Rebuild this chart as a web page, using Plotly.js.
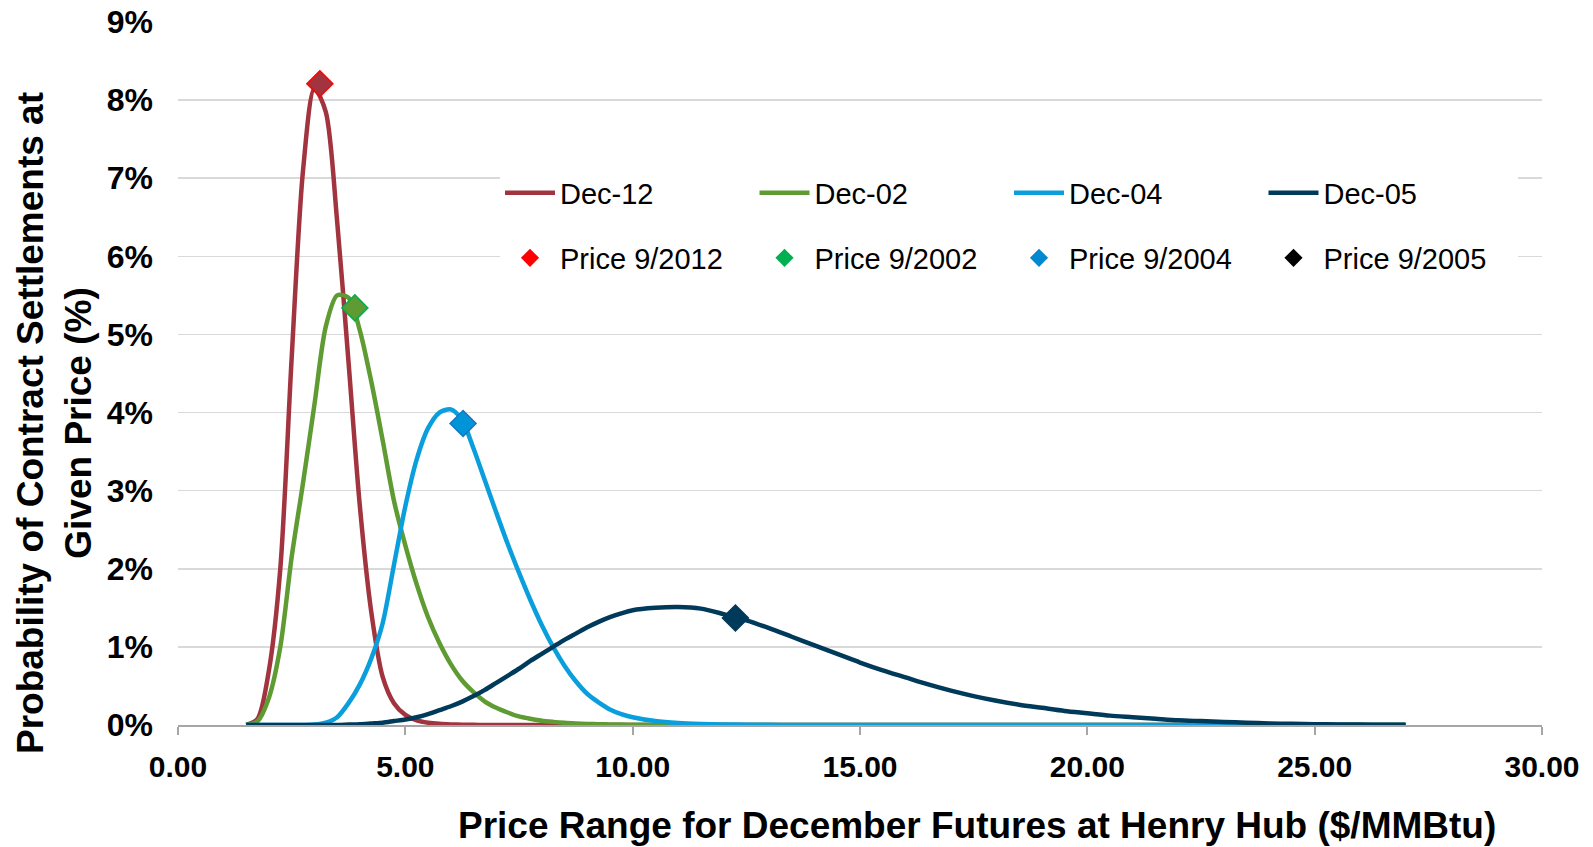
<!DOCTYPE html>
<html>
<head>
<meta charset="utf-8">
<script src="https://cdn.plot.ly/plotly-3.0.1.min.js"></script>
<style>html,body{margin:0;padding:0;background:#fff;}#chart{width:1593px;height:847px;}</style>
</head>
<body>
<div id="chart"></div>
<script>
// Price grid ($/MMBtu)
var prices = [1.5,1.75,2,2.25,2.5,2.75,3,3.25,3.5,3.75,4,4.25,4.5,4.75,5,5.25,5.5,5.75,6,6.25,6.5,6.75,7,7.25,7.5,7.75,8,8.25,8.5,8.75,9,9.25,9.5,9.75,10,
  10.5,11,11.5,12,12.5,13,13.5,14,14.5,15,15.5,16,16.5,17,17.5,18,18.5,19,19.5,20,20.5,21,21.5,22,22.5,23,23.5,24,24.5,25,25.5,26,26.5,27];

// Probability (%) for each contract
var dec12 = [0,0.08,0.7,2.0,4.7,7.1,8.15,7.85,6.45,4.65,2.8,1.45,0.62,0.28,0.13,0.06,0.03,0.015,0.008,0.004,0.002,0,0,0,0,0,0,0,0,0,0,0,0,0,0,
  0,0,0,0,0,0,0,0,0,0,0,0,0,0,0,0,0,0,0,0,0,0,0,0,0,0,0,0,0,0,0,0,0,0];
var dec02 = [0,0.05,0.35,1.0,2.15,3.1,4.1,5.1,5.5,5.47,5.05,4.4,3.65,2.87,2.3,1.8,1.38,1.05,0.78,0.57,0.42,0.3,0.22,0.16,0.11,0.08,0.055,0.04,0.028,0.02,0.014,0.01,0.007,0.005,0.003,
  0.001,0,0,0,0,0,0,0,0,0,0,0,0,0,0,0,0,0,0,0,0,0,0,0,0,0,0,0,0,0,0,0,0,0];
var dec04 = [0,0,0,0,0,0,0.005,0.03,0.1,0.28,0.52,0.85,1.3,2.05,2.8,3.4,3.8,4.0,4.04,3.9,3.54,3.13,2.72,2.32,1.95,1.6,1.28,1.0,0.76,0.56,0.4,0.29,0.2,0.14,0.1,
  0.05,0.025,0.013,0.007,0.004,0.002,0,0,0,0,0,0,0,0,0,0,0,0,0,0,0,0,0,0,0,0,0,0,0,0,0,0,0,0];
var dec05 = [0,0,0,0,0,0,0,0,0,0.005,0.01,0.02,0.03,0.05,0.07,0.1,0.14,0.19,0.24,0.3,0.37,0.45,0.54,0.63,0.72,0.82,0.91,1.0,1.09,1.17,1.25,1.32,1.38,1.43,1.47,
  1.5,1.51,1.49,1.42,1.34,1.24,1.13,1.02,0.91,0.8,0.7,0.61,0.52,0.44,0.37,0.31,0.26,0.22,0.18,0.15,0.12,0.1,0.08,0.06,0.05,0.04,0.03,0.02,0.015,0.01,0.008,0.005,0.003,0.002];

// September spot prices and probabilities
var seriesNames = ['Dec-12','Dec-02','Dec-04','Dec-05'];
var priceNames = ['Price 9/2012','Price 9/2002','Price 9/2004','Price 9/2005'];
var priceX = [3.12, 3.89, 6.27, 12.26];
var priceY = [8.21, 5.34, 3.86, 1.37];

var lineColors = ['#A2343F','#5E9B32','#0A9FDC','#003A5A'];
var markerFill = ['#A2343F','#5E9B32','#0095D9','#003A5A'];
var markerEdge = ['#FF0000','#00B050','#1B75BC','#003A5A'];
var legendMarker = ['#FF0000','#00B050','#0088D1','#000000'];

var curves = [dec12, dec02, dec04, dec05];
var FONT = 'Liberation Sans, Arial, sans-serif';
var traces = [];
curves.forEach(function(c, i){
  traces.push({x: prices, y: c, type:'scatter', mode:'lines', name: seriesNames[i],
    line:{color: lineColors[i], width:4.5, shape:'spline', smoothing:0.8}, legend:'legend', hoverinfo:'skip'});
});
for (var i=0;i<4;i++){
  traces.push({x:[priceX[i]], y:[priceY[i]], type:'scatter', mode:'markers', name: priceNames[i], showlegend:false,
    marker:{symbol:'diamond', size:20, color: markerFill[i], line:{color: markerEdge[i], width:1.5}}, cliponaxis:false});
}
for (var j=0;j<4;j++){
  traces.push({x:[null], y:[null], type:'scatter', mode:'markers', name: priceNames[j], legend:'legend2',
    marker:{symbol:'diamond', size:14, color: legendMarker[j]}});
}

var L = 178, R = 51, T = 22, B = 122;
var plotW = 1593 - L - R, plotH = 847 - T - B;
function px2paperX(px){ return (px - L)/plotW; }
function px2paperY(py){ return (847 - B - py)/plotH; }

var legendCommon = {orientation:'h', bgcolor:'#ffffff', borderwidth:0, itemwidth:50, entrywidth:189.5, entrywidthmode:'pixels',
  font:{family:FONT, size:29, color:'#000'}, xanchor:'left', yanchor:'middle', traceorder:'normal'};

var layout = {
  width:1593, height:847,
  margin:{l:L, r:R, t:T, b:B, pad:0},
  paper_bgcolor:'#fff', plot_bgcolor:'#fff',
  font:{family:FONT, color:'#000'},
  showlegend:true,
  legend: Object.assign({}, legendCommon, {x:px2paperX(500), y:px2paperY(193)}),
  legend2: Object.assign({}, legendCommon, {x:px2paperX(500), y:px2paperY(258)}),
  xaxis:{range:[0,30], dtick:5, tick0:0, tickformat:'.2f', showgrid:false, zeroline:false,
    showline:true, linecolor:'#A6A6A6', linewidth:2, ticks:'outside', ticklen:8, tickwidth:2, tickcolor:'#A6A6A6',
    tickfont:{family:FONT, size:30, color:'#000', weight:'bold'}, ticklabelstandoff:6, fixedrange:true},
  yaxis:{range:[0,9], dtick:1, tick0:0, ticksuffix:'%', showgrid:true, gridcolor:'#D9D9D9', gridwidth:1.5,
    zeroline:false, showline:false, ticks:'', tickfont:{family:FONT, size:32, color:'#000', weight:'bold'},
    ticklabelstandoff:24, fixedrange:true},
  annotations:[
    {text:'Price Range for December Futures at Henry Hub ($/MMBtu)', xref:'paper', yref:'paper',
     x:px2paperX(977), y:px2paperY(825), xanchor:'center', yanchor:'middle', showarrow:false,
     font:{family:FONT, size:37, color:'#000', weight:'bold'}},
    {text:'Probability of Contract Settlements at<br>Given Price (%)', xref:'paper', yref:'paper',
     x:px2paperX(54), y:px2paperY(423), xanchor:'center', yanchor:'middle', showarrow:false, textangle:-90,
     font:{family:FONT, size:37, color:'#000', weight:'bold'}}
  ]
};

Plotly.newPlot('chart', traces, layout, {displayModeBar:false, staticPlot:true});
</script>
</body>
</html>
